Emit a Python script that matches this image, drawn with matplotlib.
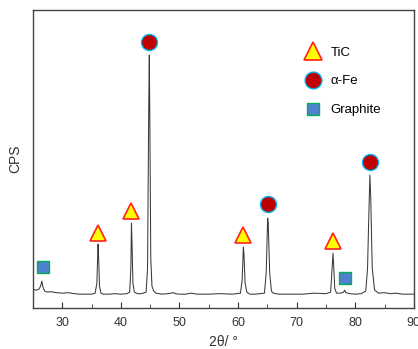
import matplotlib
matplotlib.use("Agg")
import matplotlib.pyplot as plt

plt.rcParams["font.family"] = ["Liberation Sans", "DejaVu Sans"]

# XRD pattern, hand-read points (2theta, counts in arbitrary units)
two_theta = [25.0, 25.5, 26.0, 26.3, 26.5, 26.7, 27.0, 27.5, 28.0, 29.0, 30.0, 31.0, 32.0, 33.0,
             34.0, 35.0, 35.6, 35.9, 36.05, 36.1, 36.2, 36.35, 36.6, 37.0, 38.0, 39.0, 40.0,
             41.0, 41.5, 41.7, 41.8, 41.9, 42.05, 42.3, 42.8, 43.5, 44.3, 44.55, 44.75, 44.85,
             44.95, 45.1, 45.3, 45.6, 46.0, 47.0, 48.0, 49.0, 49.3, 50.0, 51.0, 52.0, 53.0,
             55.0, 57.0, 59.0, 60.4, 60.7, 60.9, 61.0, 61.2, 61.5, 62.0, 63.0, 64.5, 64.8,
             65.05, 65.15, 65.4, 65.7, 66.0, 67.0, 69.0, 71.0, 73.0, 75.0, 75.8, 76.05, 76.2,
             76.3, 76.5, 76.8, 77.5, 78.0, 78.2, 78.4, 79.0, 80.0, 81.0, 81.8, 82.1, 82.35,
             82.5, 82.65, 82.9, 83.3, 84.0, 85.0, 86.0, 87.0, 88.0, 90.0]
cps = [19, 18, 19, 22, 27, 21, 17, 16, 16.5, 15.5, 15, 15.5, 14.5, 14,
       14, 14, 15, 25, 55, 64, 50, 22, 15, 14, 14, 14.5, 14,
       14.5, 16, 40, 85, 65, 25, 16, 14.5, 14.5, 16, 40, 200, 253,
       180, 50, 22, 17, 15, 14, 14.5, 15.5, 14.5, 14, 14, 15, 14,
       14, 14.5, 14, 15, 28, 61, 55, 25, 16, 14, 14, 15, 35,
       90, 85, 35, 17, 15, 14, 14, 14, 15, 14.5, 16, 40, 55,
       45, 20, 15, 15, 16, 18, 15.5, 14.5, 14, 14.5, 17, 40, 100,
       133, 110, 40, 18, 15, 15.5, 14.5, 15, 14, 14]

# phase markers
tic_x = [36.1, 41.8, 60.9, 76.2]
tic_y = [75, 97, 73, 67]
fe_x = [44.85, 65.1, 82.5]
fe_y = [266, 104, 146]
gr_x = [26.75, 78.2]
gr_y = [41, 30]

fig = plt.figure(figsize=(4.18, 3.49), dpi=100)
ax = fig.add_axes([0.079, 0.117, 0.911, 0.854])

ax.plot(two_theta, cps, color="#3a3a3a", linewidth=0.75)

ax.plot(tic_x, tic_y, linestyle="none", marker="^", markersize=12,
        markerfacecolor="#FFFF00", markeredgecolor="#FF2020", markeredgewidth=1.2, label="TiC")
ax.plot(fe_x, fe_y, linestyle="none", marker="o", markersize=11.5,
        markerfacecolor="#C00000", markeredgecolor="#00B0F0", markeredgewidth=1.0, label="α-Fe")
ax.plot(gr_x, gr_y, linestyle="none", marker="s", markersize=8.5,
        markerfacecolor="#4F81D0", markeredgecolor="#00B050", markeredgewidth=1.0, label="Graphite")

leg = ax.legend(loc="upper right", bbox_to_anchor=(0.945, 0.918), frameon=False,
                fontsize=9.5, labelspacing=1.25, handletextpad=0.7, handlelength=1.2,
                markerscale=1.05)

ax.set_xlim(25, 90)
ax.set_ylim(0, 298)
ax.set_xticks([30, 40, 50, 60, 70, 80, 90])
ax.set_xticks([35, 45, 55, 65, 75, 85], minor=True)
ax.tick_params(axis="x", direction="in", length=4, labelsize=9, colors="#333333", pad=6)
ax.tick_params(axis="x", which="minor", direction="in", length=3, colors="#333333")
ax.set_yticks([])
for s in ax.spines.values():
    s.set_color("#444444")
    s.set_linewidth(1.0)

ax.set_xlabel("2θ/ °", fontsize=10, color="#333333", labelpad=5)
ax.set_ylabel("CPS", fontsize=10, color="#333333", labelpad=8)

fig.savefig("out.png", dpi=100)
